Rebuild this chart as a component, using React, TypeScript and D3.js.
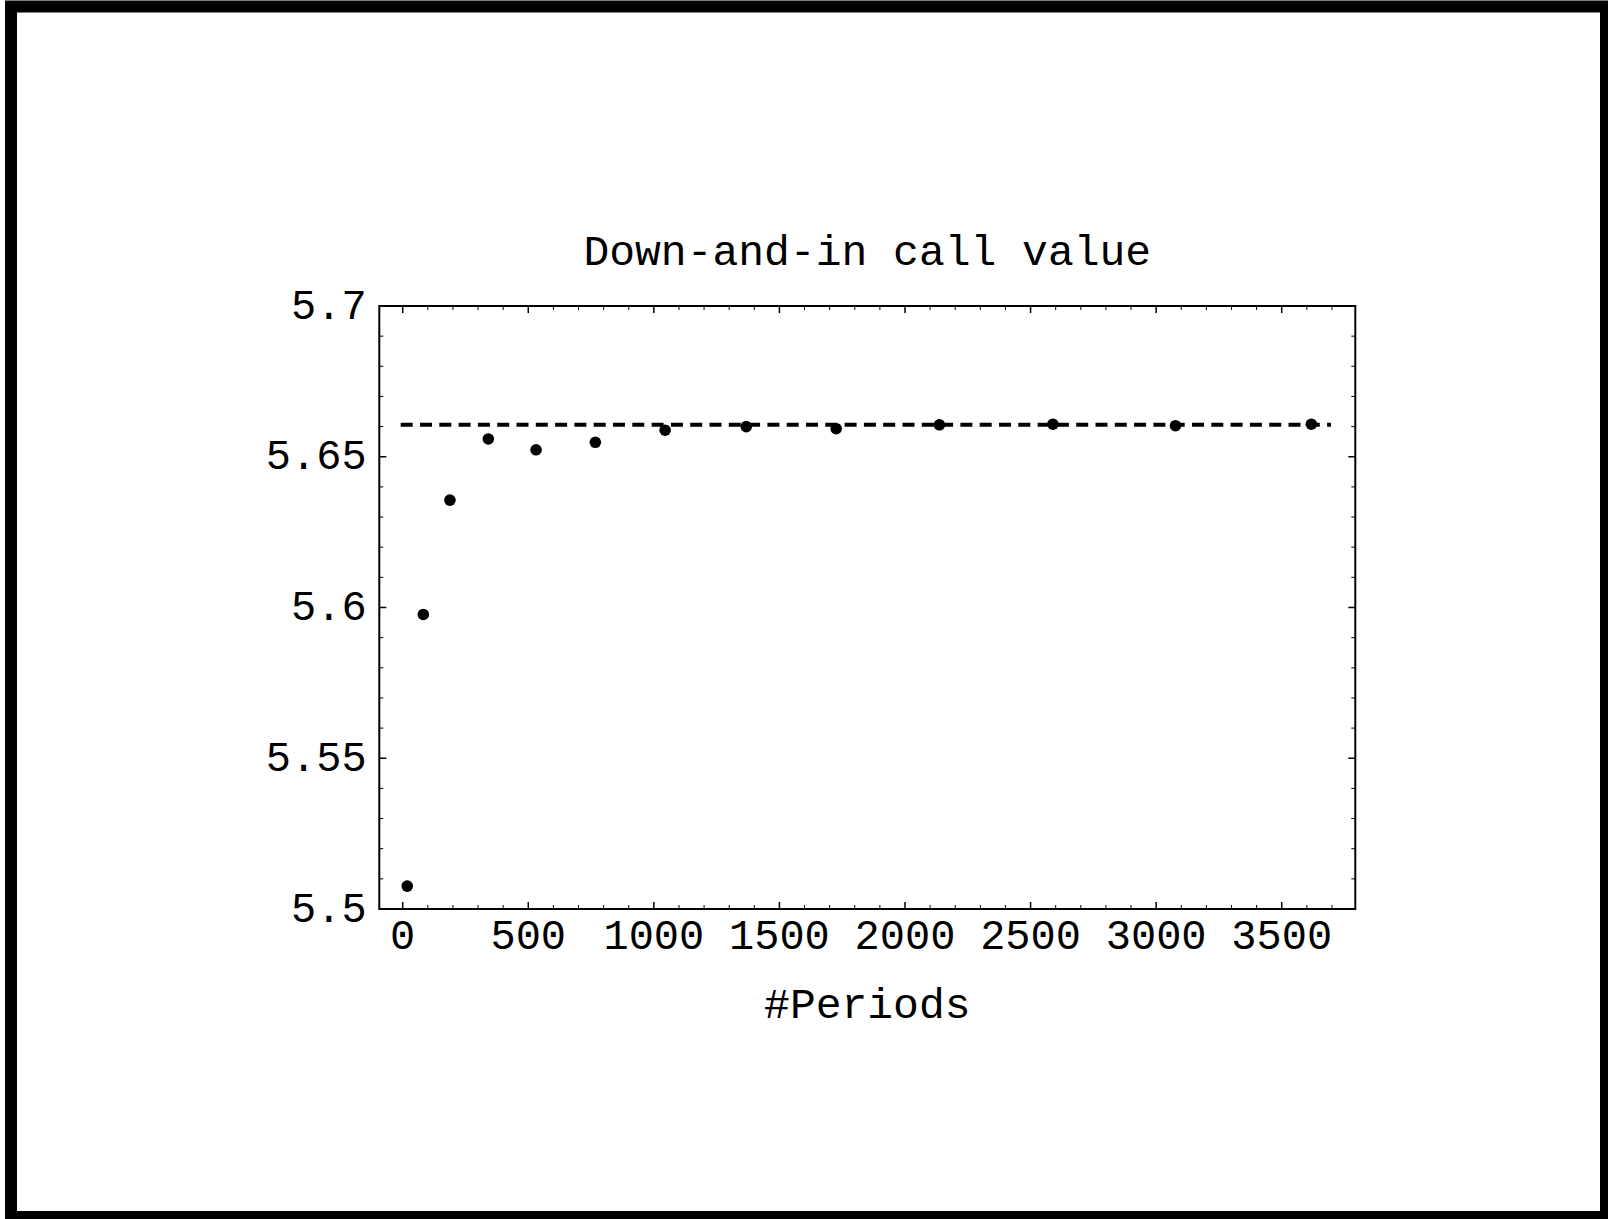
import React from "react";
import * as d3 from "d3";

const periods = [18, 82, 188, 341, 531, 767, 1045, 1368, 1726, 2137, 2589, 3077, 3618];
const values = [5.5076, 5.5977, 5.6356, 5.6559, 5.6523, 5.6548, 5.6588, 5.66, 5.6593, 5.6606, 5.6608, 5.6603, 5.6608];
const refValue = 5.6606;
const refRange = [-8, 3696];
const xTicks = [0, 500, 1000, 1500, 2000, 2500, 3000, 3500];
const xTickLabels = ["0", "500", "1000", "1500", "2000", "2500", "3000", "3500"];
const yTicks = [5.5, 5.55, 5.6, 5.65, 5.7];
const yTickLabels = ["5.5", "5.55", "5.6", "5.65", "5.7"];
const title = "Down-and-in call value";
const xLabel = "#Periods";

const W = 1608;
const H = 1219;
const L = 379.3, R = 1355.3, T = 306, B = 909;
const FONT = "'Liberation Mono', 'Courier New', monospace";

export default function App() {
  const x = d3.scaleLinear().domain([-93.2, 3793]).range([L, R]);
  const y = d3.scaleLinear().domain([5.5, 5.7]).range([B, T]);

  const xMinor = d3.range(-0, 3800, 100).filter((v) => x(v) >= L && x(v) <= R && v % 500 !== 0);
  const yMinor = d3.range(0, 21).map((i) => 5.5 + i * 0.01).filter((v) => Math.abs(Math.round(v * 20) - v * 20) > 1e-6);

  const line = d3.line<number>().x((d) => x(d)).y(() => y(refValue));

  return (
    <svg width={W} height={H} style={{ position: "absolute", left: 0, top: 0, background: "#fff" }}>
      <rect x={0} y={0} width={W} height={H} fill="#fff" />
      <rect x={11} y={6.5} width={1595} height={1210.5} fill="none" stroke="#000" strokeWidth={12} />
      <text x={(L + R) / 2} y={265} textAnchor="middle" fontFamily={FONT} fontSize={43} fill="#000">
        {title}
      </text>
      {/* frame */}
      <rect x={L} y={T} width={R - L} height={B - T} fill="none" stroke="#000" strokeWidth={2} />
      {/* x ticks */}
      {xTicks.map((v, i) => (
        <g key={"xt" + i}>
          <line x1={x(v)} x2={x(v)} y1={B} y2={B - 7} stroke="#000" strokeWidth={1.5} />
          <line x1={x(v)} x2={x(v)} y1={T} y2={T + 7} stroke="#000" strokeWidth={1.5} />
          <text x={x(v)} y={948.5} textAnchor="middle" fontFamily={FONT} fontSize={42} fill="#000">
            {xTickLabels[i]}
          </text>
        </g>
      ))}
      {xMinor.map((v, i) => (
        <g key={"xm" + i}>
          <line x1={x(v)} x2={x(v)} y1={B} y2={B - 4} stroke="#000" strokeWidth={1} />
          <line x1={x(v)} x2={x(v)} y1={T} y2={T + 4} stroke="#000" strokeWidth={1} />
        </g>
      ))}
      {/* y ticks */}
      {yTicks.map((v, i) => (
        <g key={"yt" + i}>
          <line x1={L} x2={L + 7} y1={y(v)} y2={y(v)} stroke="#000" strokeWidth={1.5} />
          <line x1={R} x2={R - 7} y1={y(v)} y2={y(v)} stroke="#000" strokeWidth={1.5} />
          <text x={366.7} y={y(v) + 12.5} textAnchor="end" fontFamily={FONT} fontSize={42} fill="#000">
            {yTickLabels[i]}
          </text>
        </g>
      ))}
      {yMinor.map((v, i) => (
        <g key={"ym" + i}>
          <line x1={L} x2={L + 4} y1={y(v)} y2={y(v)} stroke="#000" strokeWidth={1} />
          <line x1={R} x2={R - 4} y1={y(v)} y2={y(v)} stroke="#000" strokeWidth={1} />
        </g>
      ))}
      <path d={line(refRange) || ""} fill="none" stroke="#000" strokeWidth={4} strokeDasharray="12 7.3" />
      {periods.map((p, i) => (
        <circle key={"p" + i} cx={x(p)} cy={y(values[i])} r={5.8} fill="#000" />
      ))}
      <text x={(L + R) / 2} y={1018} textAnchor="middle" fontFamily={FONT} fontSize={43} fill="#000">
        {xLabel}
      </text>
    </svg>
  );
}
